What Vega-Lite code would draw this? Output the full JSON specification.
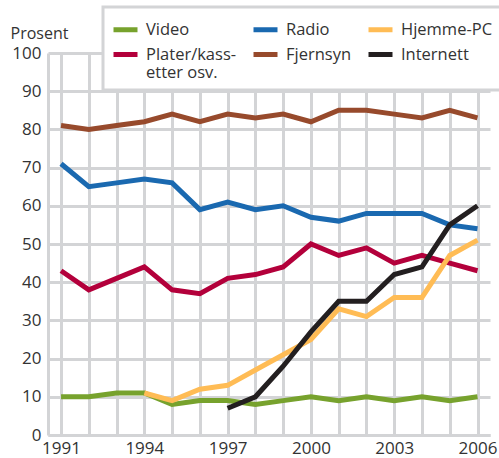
{
  "$schema": "https://vega.github.io/schema/vega-lite/v6.json",
  "width": 442,
  "height": 382,
  "autosize": {"type": "none"},
  "padding": {"left": 48, "top": 53, "right": 9, "bottom": 23},
  "background": "white",
  "config": {"font": "Open Sans", "view": {"stroke": null}, "legend": {"strokeWidth": 3}},
  "datasets": {
    "d": [
      {"year": 1991, "s": "Video", "v": 10}, {"year": 1992, "s": "Video", "v": 10}, {"year": 1993, "s": "Video", "v": 11}, {"year": 1994, "s": "Video", "v": 11},
      {"year": 1995, "s": "Video", "v": 8}, {"year": 1996, "s": "Video", "v": 9}, {"year": 1997, "s": "Video", "v": 9}, {"year": 1998, "s": "Video", "v": 8},
      {"year": 1999, "s": "Video", "v": 9}, {"year": 2000, "s": "Video", "v": 10}, {"year": 2001, "s": "Video", "v": 9}, {"year": 2002, "s": "Video", "v": 10},
      {"year": 2003, "s": "Video", "v": 9}, {"year": 2004, "s": "Video", "v": 10}, {"year": 2005, "s": "Video", "v": 9}, {"year": 2006, "s": "Video", "v": 10},
      {"year": 1991, "s": "Plater/kassetter osv.", "v": 43}, {"year": 1992, "s": "Plater/kassetter osv.", "v": 38}, {"year": 1993, "s": "Plater/kassetter osv.", "v": 41}, {"year": 1994, "s": "Plater/kassetter osv.", "v": 44},
      {"year": 1995, "s": "Plater/kassetter osv.", "v": 38}, {"year": 1996, "s": "Plater/kassetter osv.", "v": 37}, {"year": 1997, "s": "Plater/kassetter osv.", "v": 41}, {"year": 1998, "s": "Plater/kassetter osv.", "v": 42},
      {"year": 1999, "s": "Plater/kassetter osv.", "v": 44}, {"year": 2000, "s": "Plater/kassetter osv.", "v": 50}, {"year": 2001, "s": "Plater/kassetter osv.", "v": 47}, {"year": 2002, "s": "Plater/kassetter osv.", "v": 49},
      {"year": 2003, "s": "Plater/kassetter osv.", "v": 45}, {"year": 2004, "s": "Plater/kassetter osv.", "v": 47}, {"year": 2005, "s": "Plater/kassetter osv.", "v": 45}, {"year": 2006, "s": "Plater/kassetter osv.", "v": 43},
      {"year": 1991, "s": "Radio", "v": 71}, {"year": 1992, "s": "Radio", "v": 65}, {"year": 1993, "s": "Radio", "v": 66}, {"year": 1994, "s": "Radio", "v": 67},
      {"year": 1995, "s": "Radio", "v": 66}, {"year": 1996, "s": "Radio", "v": 59}, {"year": 1997, "s": "Radio", "v": 61}, {"year": 1998, "s": "Radio", "v": 59},
      {"year": 1999, "s": "Radio", "v": 60}, {"year": 2000, "s": "Radio", "v": 57}, {"year": 2001, "s": "Radio", "v": 56}, {"year": 2002, "s": "Radio", "v": 58},
      {"year": 2003, "s": "Radio", "v": 58}, {"year": 2004, "s": "Radio", "v": 58}, {"year": 2005, "s": "Radio", "v": 55}, {"year": 2006, "s": "Radio", "v": 54},
      {"year": 1991, "s": "Fjernsyn", "v": 81}, {"year": 1992, "s": "Fjernsyn", "v": 80}, {"year": 1993, "s": "Fjernsyn", "v": 81}, {"year": 1994, "s": "Fjernsyn", "v": 82},
      {"year": 1995, "s": "Fjernsyn", "v": 84}, {"year": 1996, "s": "Fjernsyn", "v": 82}, {"year": 1997, "s": "Fjernsyn", "v": 84}, {"year": 1998, "s": "Fjernsyn", "v": 83},
      {"year": 1999, "s": "Fjernsyn", "v": 84}, {"year": 2000, "s": "Fjernsyn", "v": 82}, {"year": 2001, "s": "Fjernsyn", "v": 85}, {"year": 2002, "s": "Fjernsyn", "v": 85},
      {"year": 2003, "s": "Fjernsyn", "v": 84}, {"year": 2004, "s": "Fjernsyn", "v": 83}, {"year": 2005, "s": "Fjernsyn", "v": 85}, {"year": 2006, "s": "Fjernsyn", "v": 83},
      {"year": 1994, "s": "Hjemme-PC", "v": 11}, {"year": 1995, "s": "Hjemme-PC", "v": 9}, {"year": 1996, "s": "Hjemme-PC", "v": 12}, {"year": 1997, "s": "Hjemme-PC", "v": 13},
      {"year": 1998, "s": "Hjemme-PC", "v": 17}, {"year": 1999, "s": "Hjemme-PC", "v": 21}, {"year": 2000, "s": "Hjemme-PC", "v": 25}, {"year": 2001, "s": "Hjemme-PC", "v": 33},
      {"year": 2002, "s": "Hjemme-PC", "v": 31}, {"year": 2003, "s": "Hjemme-PC", "v": 36}, {"year": 2004, "s": "Hjemme-PC", "v": 36}, {"year": 2005, "s": "Hjemme-PC", "v": 47},
      {"year": 2006, "s": "Hjemme-PC", "v": 51},
      {"year": 1997, "s": "Internett", "v": 7}, {"year": 1998, "s": "Internett", "v": 10}, {"year": 1999, "s": "Internett", "v": 18}, {"year": 2000, "s": "Internett", "v": 27},
      {"year": 2001, "s": "Internett", "v": 35}, {"year": 2002, "s": "Internett", "v": 35}, {"year": 2003, "s": "Internett", "v": 42}, {"year": 2004, "s": "Internett", "v": 44},
      {"year": 2005, "s": "Internett", "v": 55}, {"year": 2006, "s": "Internett", "v": 60}
    ]
  },
  "data": {"name": "d"},
  "mark": {"type": "line", "strokeWidth": 5},
  "encoding": {
    "x": {
      "field": "year", "type": "quantitative",
      "scale": {"domain": [1990.53, 2006.45], "nice": false, "zero": false},
      "axis": {
        "title": null,
        "values": [1991, 1992, 1993, 1994, 1995, 1996, 1997, 1998, 1999, 2000, 2001, 2002, 2003, 2004, 2005, 2006],
        "labelExpr": "(datum.value - 1991) % 3 == 0 ? datum.value : ''",
        "grid": true, "gridColor": "#d3d4d6", "gridWidth": 3,
        "domain": true, "domainColor": "#d3d4d6", "domainWidth": 3,
        "ticks": false, "labelFontSize": 17, "labelColor": "#333333", "labelPadding": 5,
        "labelFlush": false, "labelOverlap": false
      }
    },
    "y": {
      "field": "v", "type": "quantitative",
      "scale": {"domain": [0, 100], "nice": false},
      "axis": {
        "title": "Prosent", "titleAngle": 0, "titleAlign": "left", "titleBaseline": "alphabetic",
        "titleX": -38, "titleY": -15, "titleFontSize": 16, "titleFontWeight": "normal", "titleColor": "#333333",
        "values": [0, 10, 20, 30, 40, 50, 60, 70, 80, 90, 100],
        "grid": true, "gridColor": "#d3d4d6", "gridWidth": 3,
        "domain": true, "domainColor": "#d3d4d6", "domainWidth": 3,
        "ticks": false, "labelFontSize": 17, "labelColor": "#333333", "labelPadding": 7
      }
    },
    "color": {
      "field": "s", "type": "nominal",
      "scale": {
        "domain": ["Video", "Radio", "Hjemme-PC", "Plater/kassetter osv.", "Fjernsyn", "Internett"],
        "range": ["#77a22d", "#1a69b0", "#ffbc55", "#b3003b", "#974a2c", "#231f20"]
      },
      "legend": {
        "title": null, "orient": "none", "legendX": 55, "legendY": -46, "columns": 3,
        "direction": "horizontal",
        "symbolType": "stroke", "symbolStrokeWidth": 5, "symbolSize": 576,
        "labelFontSize": 16.5, "labelColor": "#333333", "labelOffset": 6,
        "labelExpr": "datum.label == 'Plater/kassetter osv.' ? ['Plater/kass-', 'etter osv.'] : datum.label",
        "columnPadding": 6, "rowPadding": 0, "padding": 8,
        "fillColor": "white", "strokeColor": "#d3d4d6"
      }
    },
    "order": {"field": "year"}
  }
}
